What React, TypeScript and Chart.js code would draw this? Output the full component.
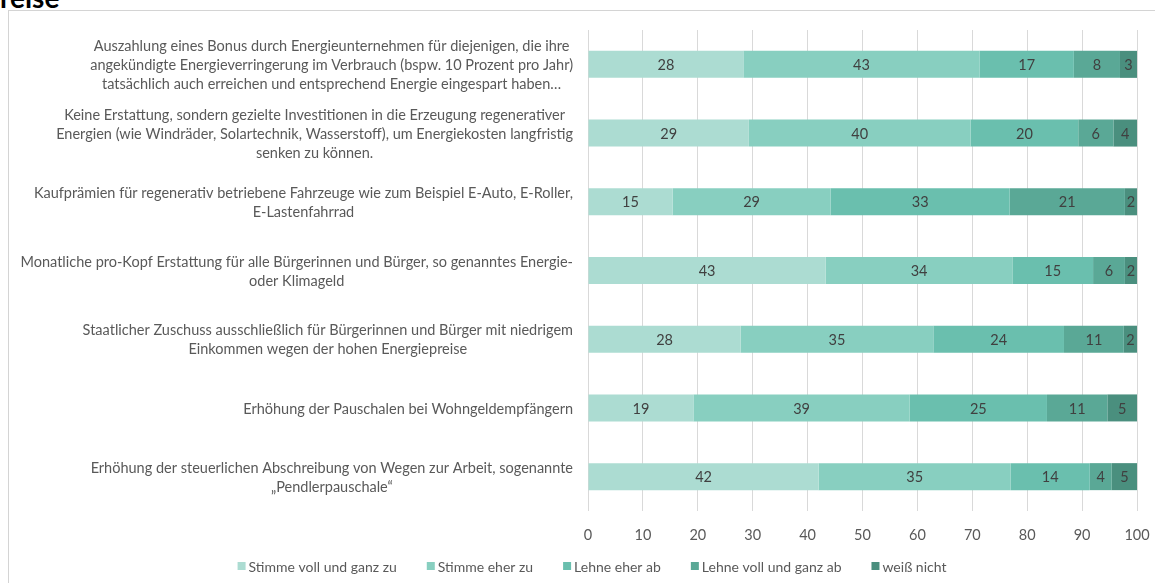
import React, { useEffect, useRef } from "react";
import { Chart, registerables } from "chart.js";

Chart.register(...registerables);

const categories: string[][] = [
  [
    "Auszahlung eines Bonus durch Energieunternehmen für diejenigen, die ihre",
    "angekündigte Energieverringerung im Verbrauch (bspw. 10 Prozent pro Jahr)",
    "tatsächlich auch erreichen und entsprechend Energie eingespart haben…",
  ],
  [
    "Keine Erstattung, sondern gezielte Investitionen in die Erzeugung regenerativer",
    "Energien (wie Windräder, Solartechnik, Wasserstoff), um Energiekosten langfristig",
    "senken zu können.",
  ],
  [
    "Kaufprämien für regenerativ betriebene Fahrzeuge wie zum Beispiel E-Auto, E-Roller,",
    "E-Lastenfahrrad",
  ],
  [
    "Monatliche pro-Kopf Erstattung für alle Bürgerinnen und Bürger, so genanntes Energie-",
    "oder Klimageld",
  ],
  [
    "Staatlicher Zuschuss ausschließlich für Bürgerinnen und Bürger mit niedrigem",
    "Einkommen wegen der hohen Energiepreise",
  ],
  ["Erhöhung der Pauschalen bei Wohngeldempfängern"],
  [
    "Erhöhung der steuerlichen Abschreibung von Wegen zur Arbeit, sogenannte",
    "„Pendlerpauschale“",
  ],
];

const seriesNames = [
  "Stimme voll und ganz zu",
  "Stimme eher zu",
  "Lehne eher ab",
  "Lehne voll und ganz ab",
  "weiß nicht",
];

const stimmeVoll = [28.3, 29.3, 15.4, 43.3, 27.8, 19.2, 42.0];
const stimmeEher = [43.0, 40.4, 28.8, 34.0, 35.1, 39.4, 35.0];
const lehneEher = [17.2, 19.6, 32.6, 14.7, 23.8, 25.0, 14.4];
const lehneVoll = [8.4, 6.4, 21.0, 5.8, 10.9, 11.0, 4.0];
const weissNicht = [3.1, 4.3, 2.2, 2.2, 2.4, 5.4, 4.6];

const xTicks = [0, 10, 20, 30, 40, 50, 60, 70, 80, 90, 100];

const colors = ["#acdcd2", "#88cfc0", "#6abfae", "#5aa896", "#4a8f7e"];

const FONT = "Lato, 'Open Sans', sans-serif";

const drawPlugin = {
  id: "customDraw",
  afterDatasetsDraw(chart: any) {
    const ctx = chart.ctx;
    ctx.save();
    ctx.font = `14.5px ${FONT}`;
    ctx.fillStyle = "#404040";
    ctx.textAlign = "center";
    ctx.textBaseline = "middle";
    chart.data.datasets.forEach((ds: any, di: number) => {
      const meta = chart.getDatasetMeta(di);
      meta.data.forEach((el: any, i: number) => {
        const v = ds.data[i];
        const cx = (el.x + el.base) / 2;
        ctx.fillText(String(Math.round(v)), cx, el.y + 1);
      });
    });
    ctx.restore();
  },
  afterDraw(chart: any) {
    const ctx = chart.ctx;
    const yScale = chart.scales.y;
    ctx.save();
    ctx.font = `14.5px ${FONT}`;
    ctx.fillStyle = "#595959";
    ctx.textAlign = "center";
    ctx.textBaseline = "middle";
    const rightEdge = 564;
    const lh = 19;
    categories.forEach((lines, i) => {
      const cy = yScale.getPixelForTick(i);
      const maxW = Math.max(...lines.map((l) => ctx.measureText(l).width));
      const cx = rightEdge - maxW / 2;
      const startY = cy - ((lines.length - 1) * lh) / 2;
      lines.forEach((l, j) => ctx.fillText(l, cx, startY + j * lh + 1));
    });
    // legend
    ctx.font = `14px ${FONT}`;
    ctx.textAlign = "left";
    const box = 8;
    const gapBoxText = 3;
    const gapItems = 30;
    const widths = seriesNames.map((n) => box + gapBoxText + ctx.measureText(n).width);
    const total = widths.reduce((a, b) => a + b, 0) + gapItems * (widths.length - 1);
    let x = 583 - total / 2;
    const ly = 555;
    seriesNames.forEach((n, i) => {
      ctx.fillStyle = colors[i];
      ctx.fillRect(x, ly - box / 2, box, box);
      ctx.fillStyle = "#595959";
      ctx.fillText(n, x + box + gapBoxText, ly + 1);
      x += widths[i] + gapItems;
    });
    ctx.restore();
  },
};

export default function App() {
  const ref = useRef<HTMLCanvasElement | null>(null);

  useEffect(() => {
    if (!ref.current) return;
    const values = [stimmeVoll, stimmeEher, lehneEher, lehneVoll, weissNicht];
    const chart = new Chart(ref.current, {
      type: "bar",
      data: {
        labels: categories.map((c) => c.join(" ")),
        datasets: seriesNames.map((name, i) => ({
          label: name,
          data: values[i],
          backgroundColor: colors[i],
          borderWidth: 0,
          categoryPercentage: 1,
          barPercentage: 0.393,
        })),
      },
      options: {
        indexAxis: "y",
        animation: false,
        responsive: false,
        devicePixelRatio: 1,
        layout: { autoPadding: false, padding: { top: 19, right: 18, bottom: 42, left: 0 } },
        scales: {
          x: {
            stacked: true,
            min: 0,
            max: 100,
            afterBuildTicks: (scale: any) => {
              scale.ticks = xTicks.map((v) => ({ value: v }));
            },
            ticks: {
              color: "#595959",
              font: { family: FONT, size: 14.5 },
              padding: 16,
              maxRotation: 0,
            },
            grid: { color: "#d9d9d9", drawTicks: false, lineWidth: 1 },
            border: { display: false },
            afterFit: (scale: any) => {
              scale.height = 30;
              scale.paddingLeft = 0;
              scale.paddingRight = 0;
            },
          },
          y: {
            stacked: true,
            grid: { display: false },
            border: { display: false },
            ticks: { display: false },
            afterFit: (scale: any) => {
              scale.width = 579;
            },
          },
        },
        plugins: {
          legend: { display: false },
          tooltip: { enabled: false },
        },
      } as any,
      plugins: [drawPlugin],
    });
    return () => chart.destroy();
  }, []);

  return (
    <div
      style={{
        position: "absolute",
        left: 0,
        top: 0,
        width: 1155,
        height: 583,
        overflow: "hidden",
        background: "#ffffff",
      }}
    >
      <div
        style={{
          position: "absolute",
          left: 0,
          top: -17,
          fontFamily: FONT,
          fontWeight: 700,
          fontSize: 28,
          lineHeight: "28px",
          color: "#000000",
        }}
      >
        reise
      </div>
      <div
        style={{
          position: "absolute",
          left: 8,
          top: 10,
          right: 0,
          bottom: 0,
          borderLeft: "1px solid #d4d4d4",
          borderTop: "1px solid #d4d4d4",
        }}
      />
      <canvas
        ref={ref}
        width={1146}
        height={572}
        style={{ position: "absolute", left: 9, top: 11, width: 1146, height: 572 }}
      />
    </div>
  );
}
